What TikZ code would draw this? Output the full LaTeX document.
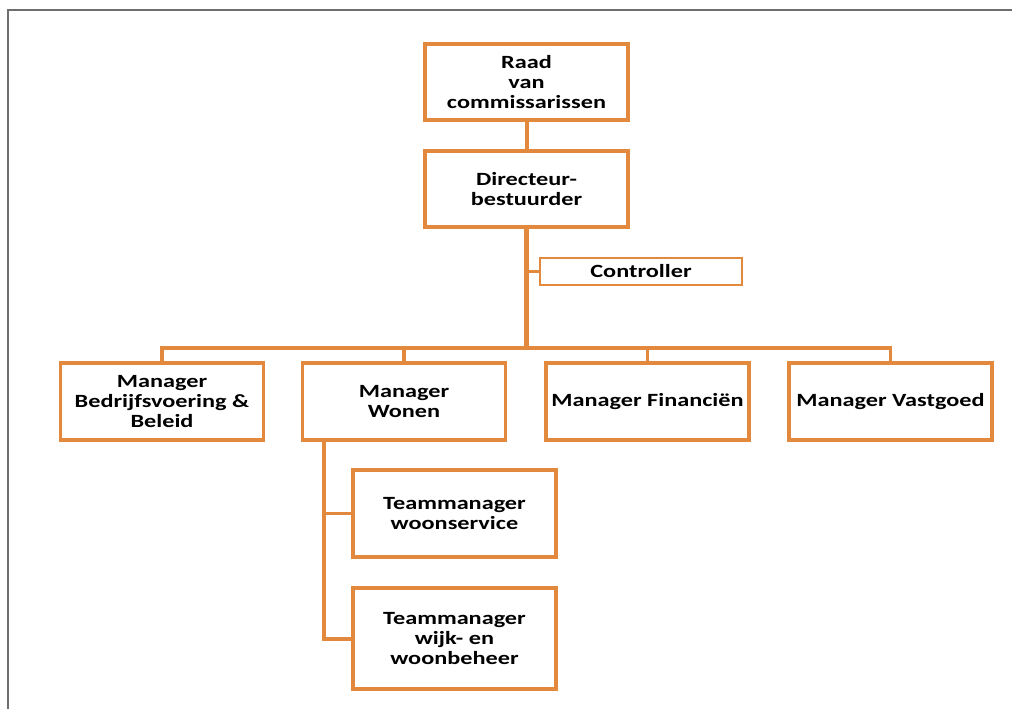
\documentclass[tikz,border=0pt]{standalone}
\usepackage{fontspec}
\setmainfont{Carlito}[FakeStretch=1.3]
\usetikzlibrary{positioning}

\definecolor{orgorange}{RGB}{226,137,62}
\definecolor{framegray}{RGB}{110,110,110}

\begin{document}
\begin{tikzpicture}[
    x=0.75pt, y=-0.75pt,
    box/.style={rectangle, draw=orgorange, line width=2.6pt, fill=white,
                minimum width=152.25pt, minimum height=57pt, inner sep=2pt,
                align=center, font=\fontsize{14}{15}\selectfont\bfseries, outer sep=0pt},
    ctrlbox/.style={box, line width=2pt, minimum height=20.25pt, minimum width=151.5pt},
    link/.style={draw=orgorange, line width=2.4pt},
    trunk/.style={draw=orgorange, line width=3.6pt},
    side/.style={draw=orgorange, line width=1.7pt},
]
\useasboundingbox (0,0) rectangle (1012,709);

% frame
\draw[framegray, line width=1.1pt] (8,709) -- (8,10) -- (1012,10);

\node[box] (raad) at (526.5,82) {Raad\\van\\commissarissen};
\node[box] (dir) at (526.5,189) {Directeur-\\bestuurder};
\node[ctrlbox] (ctrl) at (641,271.5) {Controller};

\node[box, minimum height=57.75pt] (bedr) at (162,401.5) {Manager\\Bedrijfsvoering \&\\Beleid};
\node[box, minimum height=57.75pt] (wonen) at (404,401.5) {Manager\\Wonen};
\node[box, minimum height=57.75pt] (fin) at (647.5,401.5) {Manager Financiën};
\node[box, minimum height=57.75pt] (vast) at (890.5,401.5) {Manager Vastgoed};

\node[box, minimum height=65.25pt] (tmws) at (454.5,513.5) {Teammanager\\woonservice};
\node[box, minimum height=75.75pt] (tmwb) at (454.5,638.5) {Teammanager\\wijk- en\\woonbeheer};

\coordinate (hub) at (526.5,348);
\coordinate (spine) at (324,440);

% connectors
\draw[link, line width=3pt] (raad) -- (dir);
\draw[trunk] (dir) -- (hub);
\draw[side] (ctrl.west) -- (ctrl.west -| hub);
\draw[link] (bedr.north) |- (hub) -| (vast.north);
\draw[link] (wonen.north) -- (wonen.north |- hub);
\draw[link] (fin.north) -- (fin.north |- hub);

% Wonen
\draw[link, line width=3pt] (spine) -- (spine |- tmwb.west) -- (tmwb.west);
\draw[side] (spine |- tmws.west) -- (tmws.west);

\end{tikzpicture}
\end{document}
